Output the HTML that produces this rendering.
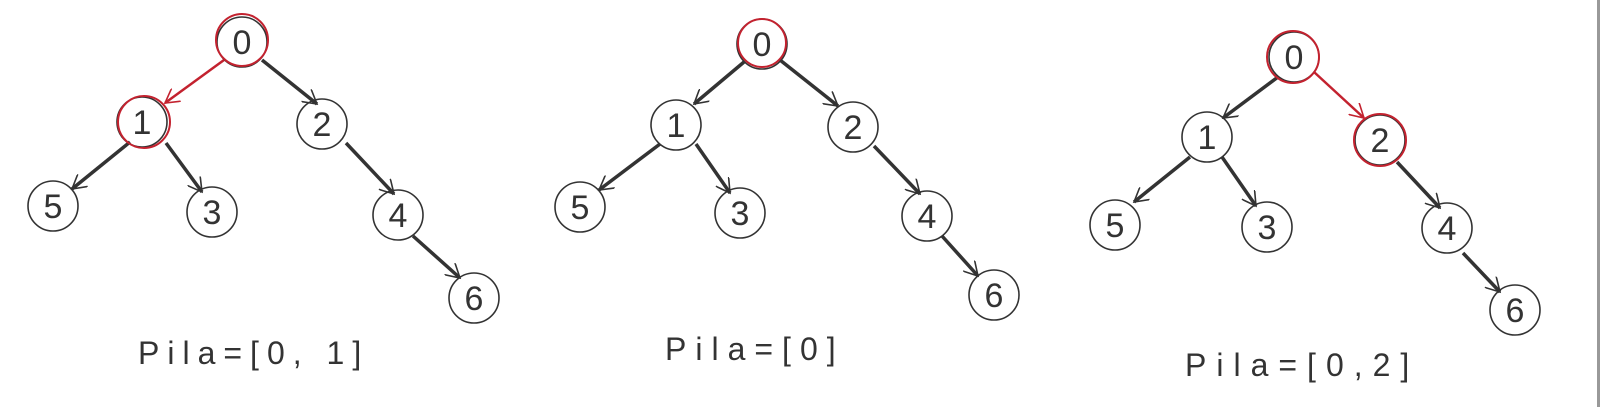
<!DOCTYPE html>
<html><head><meta charset="utf-8"><style>
html,body{margin:0;padding:0;background:#fff;width:1600px;height:407px;overflow:hidden}
text{font-family:"Liberation Sans",sans-serif;fill:#333}
</style></head><body>
<svg width="1600" height="407" viewBox="0 0 1600 407" xmlns="http://www.w3.org/2000/svg">
<defs>
<marker id="a" viewBox="0 0 16 16" refX="14" refY="8" markerWidth="16" markerHeight="16" markerUnits="userSpaceOnUse" orient="auto"><path d="M0,0 L14,8 L0,16" fill="none" stroke="#333" stroke-width="1.6"/></marker>
<marker id="r" viewBox="0 0 16 16" refX="14" refY="8" markerWidth="16" markerHeight="16" markerUnits="userSpaceOnUse" orient="auto"><path d="M0,0 L14,8 L0,16" fill="none" stroke="#c3222f" stroke-width="1.6"/></marker>
</defs>
<rect x="1597" y="0" width="3" height="407" fill="#999"/>
<g stroke-width="3.5" fill="none" stroke="#333">
<line x1="224" y1="60" x2="165" y2="103" stroke="#c3222f" stroke-width="2.5" marker-end="url(#r)"/>
<line x1="262" y1="60" x2="317" y2="104" marker-end="url(#a)"/>
<line x1="130" y1="142" x2="72" y2="189" marker-end="url(#a)"/>
<line x1="166" y1="143" x2="202" y2="192" marker-end="url(#a)"/>
<line x1="346" y1="143" x2="394" y2="194" marker-end="url(#a)"/>
<line x1="413" y1="236" x2="460" y2="278" marker-end="url(#a)"/>
<line x1="744" y1="62" x2="694" y2="104" marker-end="url(#a)"/>
<line x1="780" y1="60" x2="838" y2="106" marker-end="url(#a)"/>
<line x1="660" y1="144" x2="599" y2="190" marker-end="url(#a)"/>
<line x1="696" y1="144" x2="730" y2="193" marker-end="url(#a)"/>
<line x1="874" y1="146" x2="920" y2="194" marker-end="url(#a)"/>
<line x1="942" y1="236" x2="978" y2="276" marker-end="url(#a)"/>
<line x1="1278" y1="77" x2="1223" y2="118" marker-end="url(#a)"/>
<line x1="1314" y1="72" x2="1364" y2="118" stroke="#c3222f" stroke-width="2.5" marker-end="url(#r)"/>
<line x1="1190" y1="157" x2="1134" y2="202" marker-end="url(#a)"/>
<line x1="1222" y1="157" x2="1256" y2="206" marker-end="url(#a)"/>
<line x1="1397" y1="162" x2="1440" y2="208" marker-end="url(#a)"/>
<line x1="1463" y1="253" x2="1500" y2="292" marker-end="url(#a)"/>
</g>
<g fill="none" stroke="#333" stroke-width="1.6">
<circle cx="242" cy="42" r="25"/><circle cx="142" cy="122" r="25"/><circle cx="322" cy="124" r="25"/>
<circle cx="53" cy="206" r="25"/><circle cx="212" cy="212" r="25"/><circle cx="398" cy="215" r="25"/><circle cx="474" cy="298" r="25"/>
<circle cx="762" cy="44" r="25"/><circle cx="676" cy="125" r="25"/><circle cx="853" cy="127" r="25"/>
<circle cx="580" cy="207" r="25"/><circle cx="740" cy="213" r="25"/><circle cx="927" cy="216" r="25"/><circle cx="994" cy="295" r="25"/>
<circle cx="1294" cy="57" r="25"/><circle cx="1207" cy="137" r="25"/><circle cx="1380" cy="140" r="25"/>
<circle cx="1115" cy="225" r="25"/><circle cx="1267" cy="227" r="25"/><circle cx="1447" cy="228" r="25"/><circle cx="1515" cy="310" r="25"/>
</g>
<g fill="none" stroke="#c3222f" stroke-width="2">
<circle cx="242" cy="40" r="26"/><circle cx="144" cy="122" r="26"/>
<circle cx="762" cy="43" r="24"/>
<circle cx="1293" cy="57" r="26"/><circle cx="1380" cy="140" r="26"/>
</g>
<g font-size="34" text-anchor="middle">
<text x="242" y="54">0</text><text x="142" y="134">1</text><text x="322" y="136">2</text>
<text x="53" y="218">5</text><text x="212" y="224">3</text><text x="398" y="227">4</text><text x="474" y="310">6</text>
<text x="762" y="56">0</text><text x="676" y="137">1</text><text x="853" y="139">2</text>
<text x="580" y="219">5</text><text x="740" y="225">3</text><text x="927" y="228">4</text><text x="994" y="307">6</text>
<text x="1294" y="69">0</text><text x="1207" y="149">1</text><text x="1380" y="152">2</text>
<text x="1115" y="237">5</text><text x="1267" y="239">3</text><text x="1447" y="240">4</text><text x="1515" y="322">6</text>
</g>
<g font-size="32">
<text x="138" y="364" letter-spacing="8">Pila=[0, 1]</text>
<text x="665" y="360" letter-spacing="9">Pila=[0]</text>
<text x="1185" y="376" letter-spacing="10">Pila=[0,2]</text>
</g>
</svg>
</body></html>
